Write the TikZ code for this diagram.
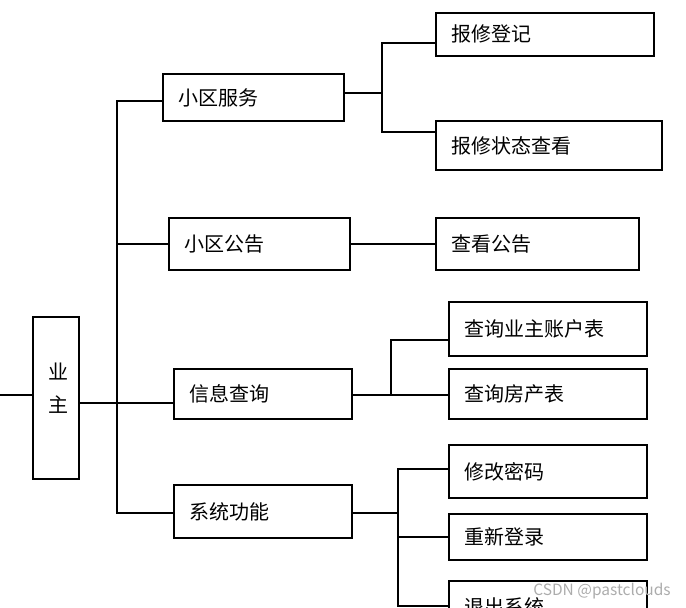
\documentclass[tikz,border=0pt]{standalone}
\usepackage{fontspec}
\newfontfamily\cjk{Noto Sans CJK SC}
\usetikzlibrary{positioning}

\begin{document}
\begin{tikzpicture}[x=1pt,y=-1pt,line width=1.8pt,
    box/.style={draw,anchor=north west,inner xsep=16pt,inner ysep=0pt,align=left,
      font=\cjk\fontsize{20}{24}\selectfont}]
  \clip (0,0) rectangle (686,608);
  \useasboundingbox (0,0) rectangle (686,608);
  \node[box,align=center,text width=14pt,text depth=54pt,minimum height=162pt,font=\cjk\fontsize{20}{33}\selectfont] (yz) at (32,316) {业\\主};
  \node[box,text width=149pt,minimum height=47pt] (fw) at (162,73) {小区服务};
  \node[box,text width=149pt,minimum height=52pt] (gg) at (168,217) {小区公告};
  \node[box,text width=146pt,minimum height=50pt] (xx) at (173,368) {信息查询};
  \node[box,text width=146pt,minimum height=53pt] (xt) at (173,484) {系统功能};
  \node[box,text width=186pt,minimum height=43pt] (bxdj) at (435,12) {报修登记};
  \node[box,text width=194pt,minimum height=49pt] (bxzt) at (435,120) {报修状态查看};
  \node[box,text width=171pt,minimum height=52pt] (ckgg) at (435,217) {查看公告};
  \node[box,text width=166pt,minimum height=54pt] (zhb) at (448,301) {查询业主账户表};
  \node[box,text width=166pt,minimum height=50pt] (fcb) at (448,368) {查询房产表};
  \node[box,text width=166pt,minimum height=53pt] (xgmm) at (448,444) {修改密码};
  \node[box,text width=166pt,minimum height=46pt] (cxdl) at (448,513) {重新登录};
  \node[box,text width=166pt,minimum height=52pt] (tcxt) at (448,580) {退出系统};
  \coordinate (in) at (0,395);
  \coordinate (ta) at (117,101);
  \coordinate (tb) at (117,513);
  \coordinate (tc) at (117,403);
  \coordinate (fwj) at (382,93);
  \coordinate (fwa) at (382,43);
  \coordinate (fwb) at (382,132);
  \coordinate (xxj) at (391,395);
  \coordinate (xxa) at (391,340);
  \coordinate (xtj) at (398,513);
  \coordinate (xta) at (398,469);
  \coordinate (xtb) at (398,606);
  \draw (in) -- (in -| yz.west);
  \draw (yz.east |- tc) -- (tc -| xx.west);
  \draw (ta -| fw.west) -- (ta) -- (tb) -- (tb -| xt.west);
  \draw (gg.west -| ta) -- (gg.west);
  \draw (fwj -| fw.east) -- (fwj);
  \draw (fwa -| bxdj.west) -- (fwa) -- (fwb) -- (fwb -| bxzt.west);
  \draw (gg.east) -- (ckgg.west);
  \draw (xxj -| xx.east) -- (xxj -| fcb.west);
  \draw (xxj) -- (xxa) -- (xxa -| zhb.west);
  \draw (xtj -| xt.east) -- (xtj);
  \draw (xta -| xgmm.west) -- (xta) -- (xtb) -- (xtb -| tcxt.west);
  \draw (cxdl.west -| xta) -- (cxdl.west);
  \node[text=gray!65,font=\cjk\fontsize{15.5}{17}\selectfont] (wm) at (602,591) {CSDN @pastclouds};
\end{tikzpicture}
\end{document}
